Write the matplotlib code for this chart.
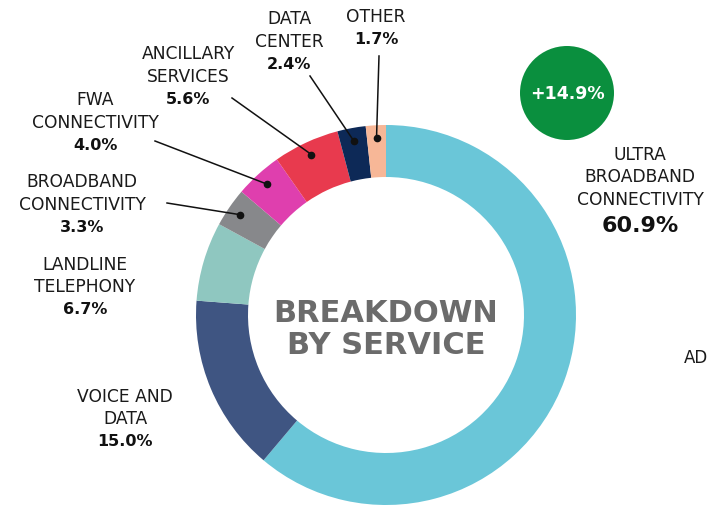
import matplotlib
matplotlib.use("Agg")
import matplotlib.pyplot as plt
from matplotlib.patches import Circle
import numpy as np

plt.rcParams["font.family"] = ["DejaVu Sans"]

# ── Data ─────────────────────────────────────────────────────────────
services = ["ULTRA\nBROADBAND\nCONNECTIVITY", "VOICE AND\nDATA", "LANDLINE\nTELEPHONY",
            "BROADBAND\nCONNECTIVITY", "FWA\nCONNECTIVITY", "ANCILLARY\nSERVICES",
            "DATA\nCENTER", "OTHER"]
shares = [60.9, 15.0, 6.7, 3.3, 4.0, 5.6, 2.4, 1.7]
pct_labels = ["60.9%", "15.0%", "6.7%", "3.3%", "4.0%", "5.6%", "2.4%", "1.7%"]
colors = ["#6AC6D8", "#3F5582", "#8FC7C0", "#87888B", "#DF3FAE", "#E83A4E", "#0D2957", "#F7B797"]
growth = "+14.9%"

W, H = 710, 506
fig = plt.figure(figsize=(W / 100, H / 100), dpi=100)
ax = fig.add_axes([0, 0, 1, 1])

cx, cy, R, ring = 386, H - 316, 190, 52
wedges, _ = ax.pie(shares, center=(cx, cy), radius=R, startangle=90, counterclock=False,
                   colors=colors, wedgeprops=dict(width=ring, linewidth=0))

# label anchor (first line centre, pixel coords from top) and leader start; None = no leader
label_pos = [(640, 155), (125, 397), (85, 265), (82, 182), (95, 100), (188, 54), (289, 19), (376, 17)]
line_start = [None, None, None, (167, 204), (155, 142), (232, 99), (310, 77), (379, 57)]
step = 22.5
dot_r = R - 13

for i, w in enumerate(wedges):
    lx, ly = label_pos[i]
    lines = services[i].split("\n")
    for k, txt in enumerate(lines):
        ax.text(lx, H - (ly + k * step), txt, ha="center", va="center", fontsize=12.3,
                color="#1A1A1A")
    py = ly + len(lines) * step + (3 if i == 0 else 0)
    ax.text(lx, H - py, pct_labels[i], ha="center", va="center",
            fontsize=16 if i == 0 else 11.5, fontweight="bold", color="#111111")
    if line_start[i] is not None:
        mid = np.deg2rad((w.theta1 + w.theta2) / 2)
        dx, dy = cx + dot_r * np.cos(mid), cy + dot_r * np.sin(mid)
        sx, sy = line_start[i]
        ax.plot([sx, dx], [H - sy, dy], color="#111111", lw=1.1)
        ax.plot(dx, dy, "o", color="#111111", ms=4.5)

ax.text(cx, H - 314, "BREAKDOWN", ha="center", va="center", fontsize=22,
        fontweight="bold", color="#6B6B6B")
ax.text(cx, H - 346, "BY SERVICE", ha="center", va="center", fontsize=22,
        fontweight="bold", color="#6B6B6B")

ax.add_patch(Circle((567, H - 94), 47, color="#0A8F3E", lw=0))
ax.text(567, H - 94, growth, ha="center", va="center", fontsize=12.5, fontweight="bold", color="white")

ax.text(684, H - 358, "AD", ha="left", va="center", fontsize=12, color="#1A1A1A")

ax.set_xlim(0, W)
ax.set_ylim(0, H)
ax.set_aspect("equal")
ax.axis("off")
fig.savefig("out.png", dpi=100, facecolor="white")
